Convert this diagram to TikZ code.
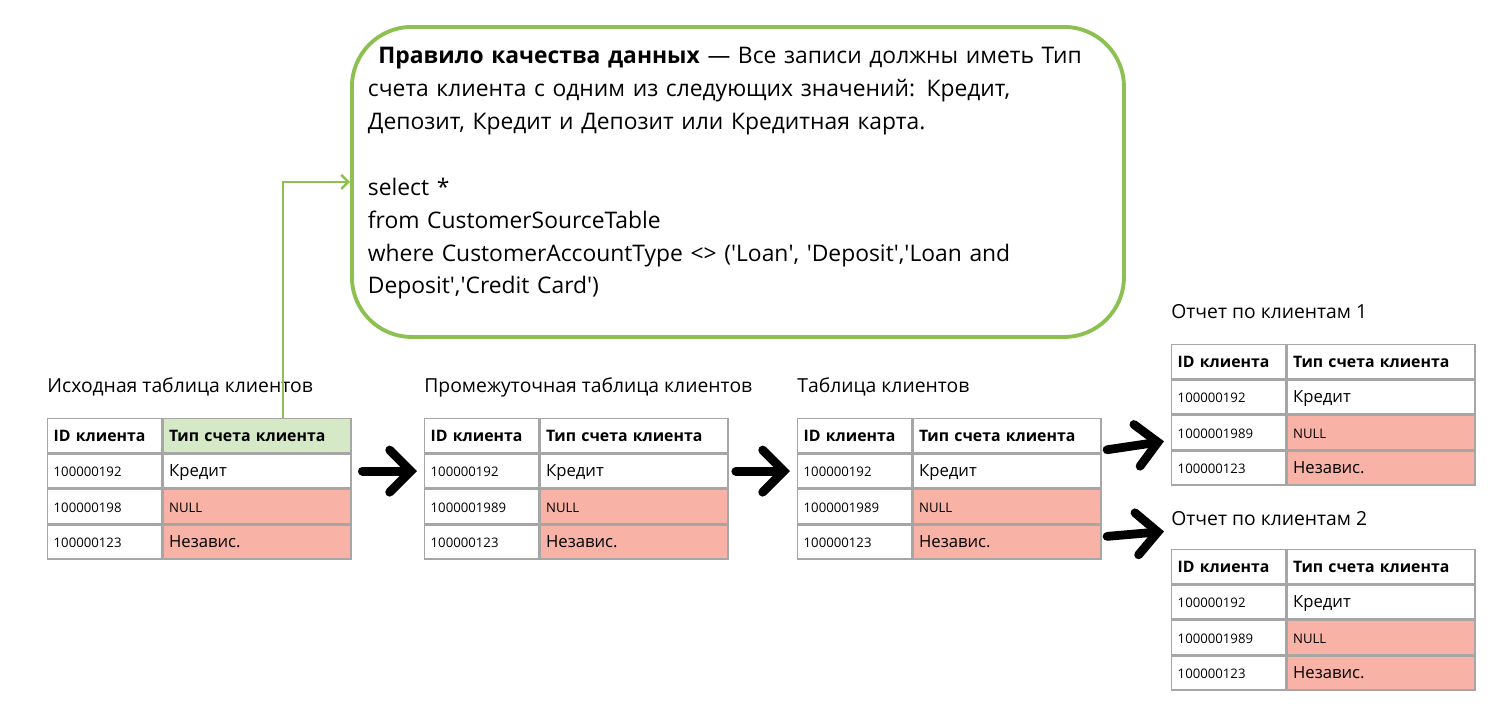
\documentclass[tikz,border=0pt]{standalone}
\usepackage{fontspec}
\setmainfont{Open Sans}
\usetikzlibrary{arrows.meta, positioning}
\definecolor{gridgray}{HTML}{A6A6A6}
\definecolor{hdrgreen}{HTML}{D5E9C6}
\definecolor{badpink}{HTML}{F8B2A6}
\definecolor{rulegreen}{HTML}{8CC152}
\tikzset{
    cell/.style = {
        draw=gridgray, line width=0.8pt, rectangle, minimum height=34*0.02cm, inner sep=0pt,
        anchor=north west, text height=1.5ex, text depth=.25ex, align=left
    },
    idcell/.style = {cell, minimum width=114*0.02cm, text width=102*0.02cm, font=\fontsize{7.5}{9}\selectfont},
    typecell/.style = {cell, minimum width=188*0.02cm, text width=176*0.02cm, font=\fontsize{9.5}{11}\selectfont},
    hdr/.style = {font=\fontsize{9}{11}\selectfont\bfseries},
    bad/.style = {fill=badpink},
    caption/.style = {anchor=base west, inner sep=0pt, font=\fontsize{11}{13}\selectfont},
    flow/.style = {line width=5pt, line cap=round, -{Straight Barb[length=12pt, width=24pt, line cap=round]}},
}
% one customer table: name, top-left corner, third id, header fill
\newcommand\CustTable[4]{%
    \node [idcell, hdr] (#1-h1) at (#2) {ID клиента};
    \node [typecell, hdr, fill=#4] (#1-h2) at (#1-h1.north east) {Тип счета клиента};
    \node [idcell] (#1-r1) at (#1-h1.south west) {100000192};
    \node [typecell] (#1-s1) at (#1-r1.north east) {Кредит};
    \node [idcell] (#1-r2) at (#1-r1.south west) {#3};
    \node [typecell, bad, font=\fontsize{7.5}{9}\selectfont] (#1-s2) at (#1-r2.north east) {NULL};
    \node [idcell] (#1-r3) at (#1-r2.south west) {100000123};
    \node [typecell, bad] (#1-s3) at (#1-r3.north east) {Независ.};
}
\begin{document}
\begin{tikzpicture}[x=0.02cm, y=-0.02cm]
    \useasboundingbox (0,0) rectangle (1498,704);

    % Place the tables
    \CustTable{src}{47,418}{100000198}{hdrgreen}
    \CustTable{stg}{424,418}{1000001989}{white}
    \CustTable{cust}{797,418}{1000001989}{white}
    \CustTable{repa}{1171,344}{1000001989}{white}
    \CustTable{repb}{1171,549}{1000001989}{white}

    % Captions
    \node [caption] (srccap) at (47,392) {Исходная таблица клиентов};
    \node [caption] (stgcap) at (424,392) {Промежуточная таблица клиентов};
    \node [caption] (custcap) at (797,392) {Таблица клиентов};
    \node [caption] (repacap) at (1171,318) {Отчет по клиентам 1};
    \node [caption] (repbcap) at (1171,525) {Отчет по клиентам 2};

    % Rule box
    \node [draw=rulegreen, line width=2.2pt, rounded corners=34pt, anchor=north west,
           minimum width=765*0.02cm, minimum height=310*0.02cm, inner xsep=16*0.02cm, inner ysep=0pt,
           text width=740*0.02cm, align=left, font=\fontsize{13}{18.7}\selectfont]
        (rule) at (350,25) {\vspace*{-19pt}\\\hspace*{6pt}\textbf{Правило качества данных} — Все записи должны иметь Тип\\
        счета клиента с одним из следующих значений: Кредит,\\
        Депозит, Кредит и Депозит или Кредитная карта.\\[18.7pt]
        select *\\
        from CustomerSourceTable\\
        where CustomerAccountType <> (\textquotesingle Loan\textquotesingle, \textquotesingle Deposit\textquotesingle,\textquotesingle Loan and\\
        Deposit\textquotesingle,\textquotesingle Credit Card\textquotesingle)\\[41pt]};

    % Draw connections
    \draw [rulegreen, line width=1.4pt, -{Straight Barb[length=4pt, width=8pt]}] ([xshift=26*0.02cm]src-h2.north) |- (rule.west);
    \draw [flow] ([xshift=6pt]src-s1.east) -- ([xshift=-4pt]stg-r1.west);
    \draw [flow] ([xshift=4pt]stg-s1.east) -- ([xshift=-4pt]cust-r1.west);
    \draw [flow] ([xshift=3pt, yshift=-8pt]cust-h2.east) -- ([xshift=-4pt, yshift=-5pt]repa-r2.west);
    \draw [flow] ([xshift=3pt, yshift=-17pt]cust-s2.east) -- ([xshift=-4pt, yshift=10pt]repb-h1.north west);
\end{tikzpicture}
\end{document}
